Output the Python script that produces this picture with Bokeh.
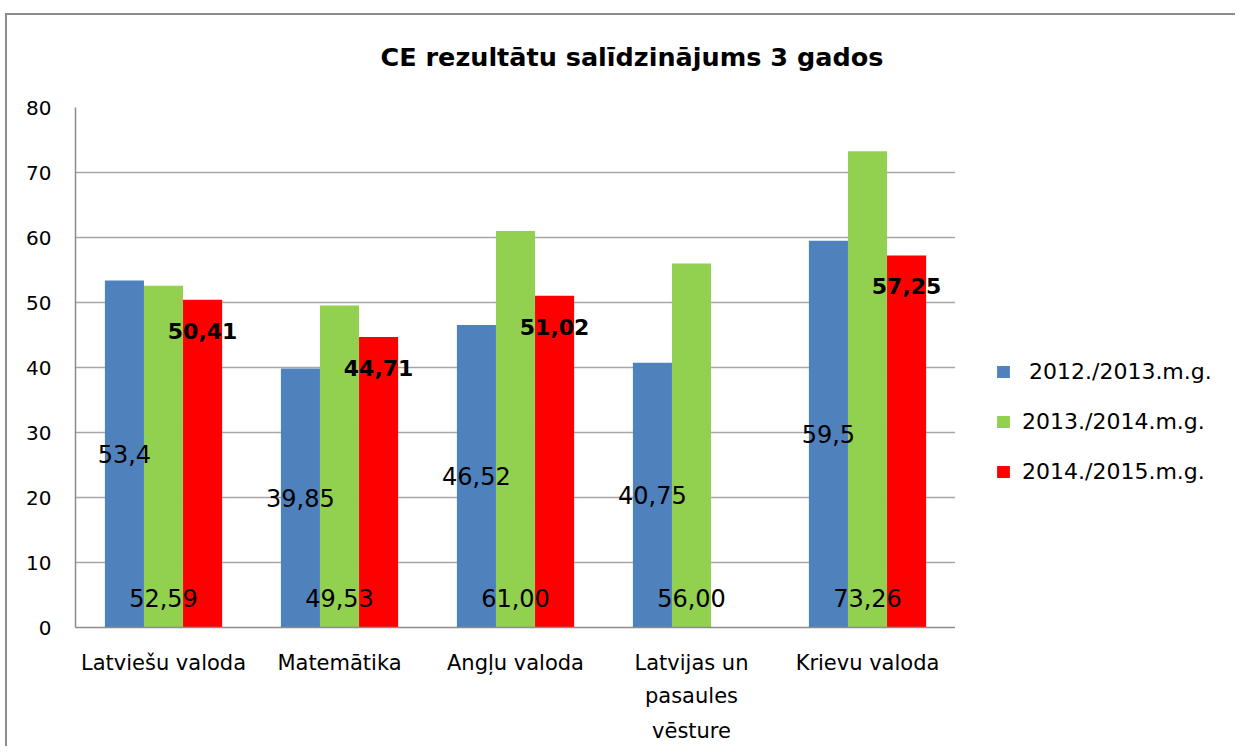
from bokeh.plotting import figure
from bokeh.layouts import row
from bokeh.models import (ColumnDataSource, FactorRange, Range1d, LabelSet,
                          Legend, LegendItem, FixedTicker, LinearAxis,
                          InlineStyleSheet)
from bokeh.transform import dodge
from bokeh.core.properties import value
from bokeh.embed import file_html
from bokeh.resources import INLINE

# ---------------- data ----------------
title_text = "CE rezultātu salīdzinājums 3 gados"
categories = ["Latviešu valoda", "Matemātika", "Angļu valoda",
              "Latvijas un pasaules vēsture", "Krievu valoda"]
category_lines = [["Latviešu valoda"], ["Matemātika"], ["Angļu valoda"],
                  ["Latvijas un", "pasaules", "vēsture"], ["Krievu valoda"]]
series_names = [" 2012./2013.m.g.", "2013./2014.m.g.", "2014./2015.m.g."]
y2012 = [53.4, 39.85, 46.52, 40.75, 59.5]
y2013 = [52.59, 49.53, 61.00, 56.00, 73.26]
y2014 = [50.41, 44.71, 51.02, None, 57.25]
y_ticks = [0, 10, 20, 30, 40, 50, 60, 70, 80]

# ---------------- style ----------------
FONT = "DejaVu Sans"
C_BLUE, C_GREEN, C_RED = "#4F81BD", "#92D050", "#FF0000"
SERIES_COLORS = [C_BLUE, C_GREEN, C_RED]
BAR_W = 0.222

def fmt_general(v):
    return f"{v:g}".replace(".", ",")

def fmt_2(v):
    return f"{v:.2f}".replace(".", ",")

css_main = InlineStyleSheet(css="""
:host::after {
  content: ""; position: absolute; left: 5px; top: 13px; right: 0px; bottom: 0px;
  border-left: 2px solid #8c8c8c; border-top: 2px solid #8c8c8c;
  pointer-events: none;
}
""")
css_side = InlineStyleSheet(css="""
:host::after {
  content: ""; position: absolute; left: 0px; top: 13px; right: 0px; bottom: 0px;
  border-top: 2px solid #8c8c8c;
  pointer-events: none;
}
""")

p = figure(x_range=FactorRange(*categories, range_padding=0),
           y_range=Range1d(0, 80),
           width=955, height=746,
           min_border_left=75, min_border_right=0,
           min_border_top=107, min_border_bottom=119,
           x_axis_location=None,
           output_backend="svg", toolbar_location=None,
           stylesheets=[css_main])
p.outline_line_color = None
p.background_fill_color = "white"
p.border_fill_color = "white"

# title
p.title.text = title_text
p.title.align = "left"
p.title.offset = 305
p.title.standoff = 71
p.title.text_font = FONT
p.title.text_font_size = "25.5px"
p.title.text_font_style = "bold"
p.title.text_color = "black"

src_b = ColumnDataSource(dict(cat=categories, v=y2012,
                              half=[v / 2 for v in y2012],
                              txt=[fmt_general(v) for v in y2012]))
src_g = ColumnDataSource(dict(cat=categories, v=y2013,
                              base=[0] * len(y2013),
                              txt=[fmt_2(v) for v in y2013]))
red_cats = [c for c, v in zip(categories, y2014) if v is not None]
red_vals = [v for v in y2014 if v is not None]
src_r = ColumnDataSource(dict(cat=red_cats, v=red_vals,
                              txt=[fmt_2(v) for v in red_vals]))

p.vbar(x=dodge("cat", -BAR_W, range=p.x_range), top="v", width=BAR_W,
       source=src_b, fill_color=C_BLUE, line_color=None)
p.vbar(x=dodge("cat", 0, range=p.x_range), top="v", width=BAR_W,
       source=src_g, fill_color=C_GREEN, line_color=None)
p.vbar(x=dodge("cat", BAR_W, range=p.x_range), top="v", width=BAR_W,
       source=src_r, fill_color=C_RED, line_color=None)

# data labels
p.add_layout(LabelSet(x=dodge("cat", -BAR_W, range=p.x_range), y="half", text="txt",
                      source=src_b, text_align="center", text_baseline="middle",
                      text_font=value(FONT), text_font_size="24px", text_color="black"))
p.add_layout(LabelSet(x=dodge("cat", 0, range=p.x_range), y="base", text="txt",
                      source=src_g, y_offset=30, text_align="center", text_baseline="middle",
                      text_font=value(FONT), text_font_size="24px", text_color="black"))
p.add_layout(LabelSet(x=dodge("cat", BAR_W, range=p.x_range), y="v", text="txt",
                      source=src_r, y_offset=-31, text_align="center", text_baseline="middle",
                      text_font=value(FONT), text_font_size="22px", text_font_style="bold",
                      text_color="black"))

# y axis
p.yaxis.ticker = FixedTicker(ticks=y_ticks)
p.yaxis.major_label_text_font = FONT
p.yaxis.major_label_text_font_size = "20px"
p.yaxis.major_label_text_color = "black"
p.yaxis.major_label_standoff = 24
p.yaxis.major_tick_line_color = None
p.yaxis.major_tick_out = 0
p.yaxis.minor_tick_line_color = None
p.yaxis.axis_line_color = "#8c8c8c"
p.yaxis.axis_line_width = 1.5

# x axis: category labels, wrapped lines stacked below each other
for level, standoff in ((0, 23), (1, 6), (2, 8)):
    ticks, overrides = [], {}
    for i, lines in enumerate(category_lines):
        if len(lines) > level:
            pos = i + 0.5
            ticks.append(pos)
            overrides[pos] = lines[level]
    ax = LinearAxis(ticker=FixedTicker(ticks=ticks), major_label_overrides=overrides,
                    axis_line_color="#8c8c8c" if level == 0 else None,
                    axis_line_width=1.5,
                    major_tick_line_color=None, major_tick_out=0, major_tick_in=0,
                    minor_tick_line_color=None, major_label_standoff=standoff,
                    major_label_text_font=FONT, major_label_text_font_size="21px",
                    major_label_text_color="black")
    p.add_layout(ax, "below")

p.xgrid.grid_line_color = None
p.ygrid.grid_line_color = "#a6a6a6"
p.ygrid.grid_line_width = 1.5

# legend panel on the right (hidden proxy bars carry the legend glyphs)
lp = figure(x_range=Range1d(0, 1), y_range=Range1d(0, 1), width=280, height=746,
            min_border=0, x_axis_location=None, y_axis_location=None,
            output_backend="svg", toolbar_location=None, stylesheets=[css_side])
lp.outline_line_color = None
lp.xgrid.grid_line_color = None
lp.ygrid.grid_line_color = None
lp.background_fill_color = "white"
lp.border_fill_color = "white"
items = []
for name, col, vals in zip(series_names, SERIES_COLORS, [y2012, y2013, red_vals]):
    r = lp.vbar(x=list(range(len(vals))), top=vals, width=0.5,
                fill_color=col, line_color=None, visible=False)
    items.append(LegendItem(label=name, renderers=[r]))
legend = Legend(items=items, location=(40, 143))
legend.glyph_width = 16
legend.glyph_height = 15
legend.label_standoff = 11
legend.label_height = 26
legend.spacing = 24
legend.padding = 0
legend.margin = 0
legend.border_line_color = None
legend.background_fill_alpha = 0
legend.inactive_fill_alpha = 0
legend.label_text_font = FONT
legend.label_text_font_size = "22px"
legend.label_text_color = "black"
lp.add_layout(legend)

layout = row(p, lp)
open("out.html", "w").write(file_html(layout, INLINE))
